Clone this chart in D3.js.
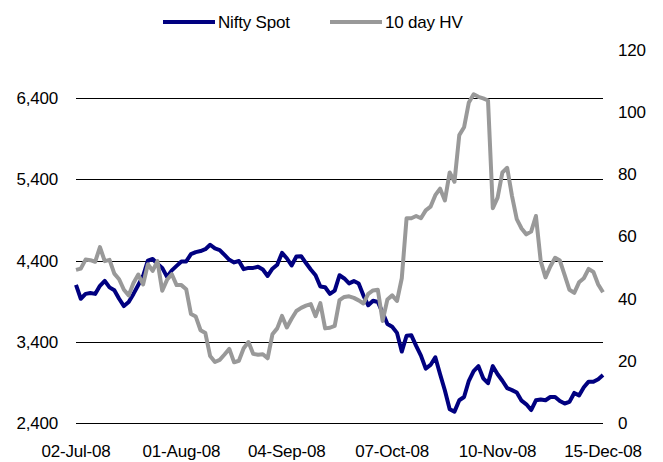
<!DOCTYPE html>
<meta charset="utf-8">
<html>
<head>
<title>Nifty Spot vs 10 day HV</title>
<style>
  html, body { margin: 0; padding: 0; background: #fff; }
  body { font-family: "Liberation Sans", Arial, sans-serif; }
  .grid line { stroke: #000; stroke-width: 1; shape-rendering: crispEdges; }
  .lbl { font-size: 17px; fill: #000; letter-spacing: -0.2px; }
</style>
</head>
<body>
<div id="chart"></div>
<script src="https://d3js.org/d3.v7.min.js"></script>
<script>
// x tick labels, one every 22 trading days
var tickLabels = ["02-Jul-08", "01-Aug-08", "04-Sep-08", "07-Oct-08", "10-Nov-08", "15-Dec-08"];
var tickStep = 22;

// left axis ticks (Nifty) and right axis ticks (HV)
var leftTicks = [2400, 3400, 4400, 5400, 6400];
var rightTicks = [0, 20, 40, 60, 80, 100, 120];

// Nifty Spot, daily close
var nifty = [4100,3930,3990,4000,3990,4090,4150,4070,4035,3930,
  3840,3890,3990,4100,4210,4400,4420,4360,4310,4200,
  4280,4335,4390,4390,4480,4505,4518,4540,4595,4550,
  4530,4470,4410,4378,4395,4295,4310,4310,4325,4290,
  4211,4300,4350,4495,4429,4340,4450,4455,4370,4290,
  4220,4080,4072,3990,4030,4220,4180,4120,4148,4118,
  3970,3850,3905,3890,3760,3620,3585,3510,3280,3475,
  3480,3350,3230,3070,3115,3210,3000,2800,2570,2540,
  2680,2720,2920,3040,3100,2950,2890,3100,3000,2920,
  2830,2805,2775,2675,2630,2560,2680,2690,2680,2720,
  2720,2670,2640,2660,2770,2740,2840,2909,2909,2940,2990];

// 10 day historical volatility (%)
var hv = [49.2,49.6,52.5,52.3,51.8,56.5,52,52.4,48,46.2,
  42.8,41,45,47.7,44.5,51,48.9,52,42.5,46,
  47.8,44.3,44.3,43,35,34.2,29.8,28.9,21.5,19.6,
  20.3,22,23.8,19.5,20,24,26,22.2,21.9,22.1,
  20.8,28.5,30.4,34.4,30.7,33.5,36,37,37.7,38.2,
  34.3,38.5,30.4,30.6,31.2,39.5,40.5,40.7,40.2,39.4,
  38.4,41.5,42.6,42.8,32.8,39.7,41,39.2,46.5,65.8,
  65.8,66.5,65.8,68.3,69.5,73.2,75.3,71.5,80.5,77.5,
  92.5,95,103,105.6,104.8,104.3,103.6,69,72.4,80.5,
  82,73,65.5,62.5,60.6,61.5,66.5,52,46.8,50.3,
  53.1,52.2,47.5,42.8,41.8,45.2,46.5,49.5,48.5,44.5,
  42];

var W = 663, H = 462;
var plotL = 76, plotR = 603, plotT = 49.5, plotB = 423;

var svg = d3.select("#chart").append("svg")
  .attr("width", W).attr("height", H);

var x = d3.scaleLinear().domain([0, nifty.length - 1]).range([plotL, plotR]);
var yL = d3.scaleLinear().domain([2400, 7000]).range([plotB, plotT]);
var yR = d3.scaleLinear().domain([0, 120]).range([plotB, plotT]);

// gridlines on the left axis ticks
svg.append("g").attr("class", "grid")
  .selectAll("line").data(leftTicks).enter().append("line")
  .attr("x1", plotL).attr("x2", plotR)
  .attr("y1", function(d) { return Math.round(yL(d)) + 0.5; })
  .attr("y2", function(d) { return Math.round(yL(d)) + 0.5; });

// left axis labels
svg.append("g").selectAll("text").data(leftTicks).enter().append("text")
  .attr("class", "lbl")
  .attr("text-anchor", "end")
  .attr("x", 58)
  .attr("y", function(d) { return yL(d) + 6; })
  .text(function(d) { return d3.format(",")(d); });

// right axis labels
svg.append("g").selectAll("text").data(rightTicks).enter().append("text")
  .attr("class", "lbl")
  .attr("x", 618)
  .attr("y", function(d) { return yR(d) + 6; })
  .text(function(d) { return d; });

// x labels
svg.append("g").selectAll("text").data(tickLabels).enter().append("text")
  .attr("class", "lbl")
  .attr("text-anchor", "middle")
  .attr("x", function(d, i) { return x(i * tickStep); })
  .attr("y", 457)
  .text(function(d) { return d; });

var lineN = d3.line()
  .x(function(d, i) { return x(i); })
  .y(function(d) { return yL(d); });
var lineH = d3.line()
  .x(function(d, i) { return x(i); })
  .y(function(d) { return yR(d); });

svg.append("path").datum(nifty)
  .attr("d", lineN)
  .attr("fill", "none")
  .attr("stroke", "#000080")
  .attr("stroke-width", 4)
  .attr("stroke-linejoin", "round");

svg.append("path").datum(hv)
  .attr("d", lineH)
  .attr("fill", "none")
  .attr("stroke", "#999999")
  .attr("stroke-width", 4)
  .attr("stroke-linejoin", "round");

// legend
var legend = [
  {name: "Nifty Spot", color: "#000080", x: 163},
  {name: "10 day HV", color: "#999999", x: 330}
];
var lg = svg.append("g").selectAll("g").data(legend).enter().append("g");
lg.append("line")
  .attr("x1", function(d) { return d.x; })
  .attr("x2", function(d) { return d.x + 52; })
  .attr("y1", 22).attr("y2", 22)
  .attr("stroke", function(d) { return d.color; })
  .attr("stroke-width", 4);
lg.append("text")
  .attr("class", "lbl")
  .attr("x", function(d) { return d.x + 55; })
  .attr("y", 28)
  .text(function(d) { return d.name; });
</script>
</body>
</html>
